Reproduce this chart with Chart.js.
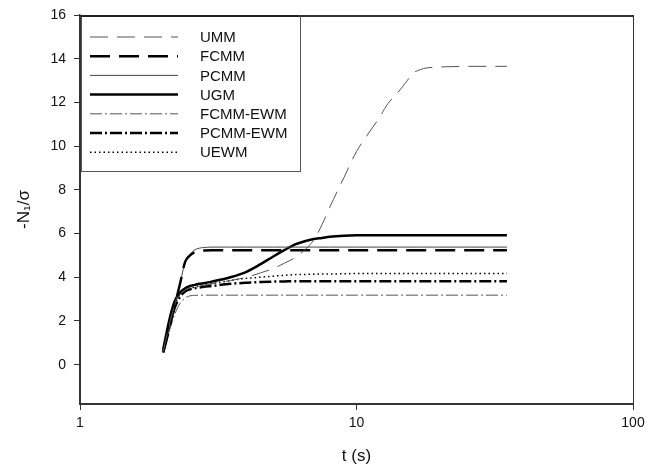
<!DOCTYPE html>
<html>
<head>
<meta charset="utf-8">
<script src="https://cdn.jsdelivr.net/npm/chart.js@4"></script>
<style>
  html, body { margin: 0; padding: 0; background: #fff; }
  #wrap { width: 646px; height: 467px; }
</style>
</head>
<body>
<div id="wrap"><canvas id="n1Chart" width="646" height="467"></canvas></div>
<script>
// time points (s)
const times = [2.0, 2.1, 2.2, 2.3, 2.4, 2.5, 2.6, 2.7, 2.8, 3, 3.5, 4, 4.5, 5, 5.5, 6, 6.5, 7, 7.5, 8, 9, 10, 11, 12, 13, 14, 15, 16, 17, 18, 20, 25, 30, 35];

// -N1/sigma for each model
const umm     = [0.6, 1.8, 2.7, 3.2, 3.4, 3.5, 3.55, 3.6, 3.62, 3.7, 3.85, 4.0, 4.2, 4.4, 4.65, 4.9, 5.25, 5.7, 6.4, 7.2, 8.55, 9.75, 10.55, 11.24, 11.95, 12.4, 12.87, 13.33, 13.5, 13.58, 13.62, 13.65, 13.65, 13.65];
const fcmm    = [0.55, 1.6, 2.7, 3.7, 4.7, 5.0, 5.15, 5.2, 5.22, 5.23, 5.23, 5.23, 5.23, 5.23, 5.23, 5.23, 5.23, 5.23, 5.23, 5.23, 5.23, 5.23, 5.23, 5.23, 5.23, 5.23, 5.23, 5.23, 5.23, 5.23, 5.23, 5.23, 5.23, 5.23];
const pcmm    = [0.55, 1.6, 2.7, 3.7, 4.7, 5.05, 5.25, 5.33, 5.36, 5.38, 5.38, 5.38, 5.38, 5.38, 5.38, 5.38, 5.38, 5.38, 5.38, 5.38, 5.38, 5.38, 5.38, 5.38, 5.38, 5.38, 5.38, 5.38, 5.38, 5.38, 5.38, 5.38, 5.38, 5.38];
const ugm     = [0.7, 2.0, 2.9, 3.3, 3.5, 3.6, 3.65, 3.7, 3.73, 3.8, 4.0, 4.25, 4.6, 4.95, 5.25, 5.5, 5.65, 5.75, 5.8, 5.85, 5.9, 5.92, 5.92, 5.92, 5.92, 5.92, 5.92, 5.92, 5.92, 5.92, 5.92, 5.92, 5.92, 5.92];
const fcmmEwm = [0.6, 1.5, 2.3, 2.8, 3.05, 3.15, 3.17, 3.18, 3.18, 3.18, 3.18, 3.18, 3.18, 3.18, 3.18, 3.18, 3.18, 3.18, 3.18, 3.18, 3.18, 3.18, 3.18, 3.18, 3.18, 3.18, 3.18, 3.18, 3.18, 3.18, 3.18, 3.18, 3.18, 3.18];
const pcmmEwm = [0.6, 1.7, 2.6, 3.1, 3.35, 3.45, 3.5, 3.53, 3.56, 3.6, 3.7, 3.75, 3.78, 3.8, 3.81, 3.82, 3.82, 3.82, 3.82, 3.82, 3.82, 3.82, 3.82, 3.82, 3.82, 3.82, 3.82, 3.82, 3.82, 3.82, 3.82, 3.82, 3.82, 3.82];
const uewm    = [0.7, 1.8, 2.7, 3.2, 3.4, 3.5, 3.55, 3.6, 3.64, 3.7, 3.85, 3.95, 4.0, 4.05, 4.09, 4.12, 4.13, 4.14, 4.15, 4.15, 4.16, 4.17, 4.17, 4.17, 4.17, 4.17, 4.17, 4.17, 4.17, 4.17, 4.17, 4.17, 4.17, 4.17];

const seriesNames = ["UMM", "FCMM", "PCMM", "UGM", "FCMM-EWM", "PCMM-EWM", "UEWM"];
const xTicks = [1, 10, 100];
const yTicks = [0, 2, 4, 6, 8, 10, 12, 14, 16];

const styles = [
    { color: "#555", width: 1,   dash: [18, 9] },
    { color: "#000", width: 2.5, dash: [20, 9] },
    { color: "#444", width: 1,   dash: [] },
    { color: "#000", width: 2.5, dash: [] },
    { color: "#555", width: 1,   dash: [12, 3, 2, 3] },
    { color: "#000", width: 2.5, dash: [12, 3, 2, 3] },
    { color: "#000", width: 1.5, dash: [1.5, 3] }
];

const allSeries = [umm, fcmm, pcmm, ugm, fcmmEwm, pcmmEwm, uewm];

const datasets = allSeries.map((vals, i) => ({
    label: seriesNames[i],
    data: vals.map((v, k) => ({ x: times[k], y: v })),
    borderColor: styles[i].color,
    borderWidth: styles[i].width,
    borderDash: styles[i].dash,
    pointRadius: 0,
    fill: false,
    cubicInterpolationMode: "monotone"
}));

const FONT = "'Liberation Sans', Arial, sans-serif";

// legend box drawn inside the plot, top-left
const boxLegend = {
    id: "boxLegend",
    afterDraw(chart) {
        const ctx = chart.ctx;
        const a = chart.chartArea;
        ctx.save();
        // frame round the plot
        ctx.strokeStyle = "#333";
        ctx.lineWidth = 1;
        ctx.strokeRect(a.left + 0.5, a.top + 0.5, a.right - a.left, a.bottom - a.top);
        ctx.lineWidth = 2;
        ctx.beginPath();
        ctx.moveTo(a.left, a.top + 1);
        ctx.lineTo(a.right, a.top + 1);
        ctx.stroke();

        const bx = a.left + 1, by = a.top, bw = 219, bh = 156;
        ctx.fillStyle = "#fff";
        ctx.fillRect(bx, by, bw, bh);
        ctx.lineWidth = 1;
        ctx.strokeStyle = "#555";
        ctx.strokeRect(bx + 0.5, by + 0.5, bw, bh);
        ctx.lineWidth = 2;
        ctx.strokeStyle = "#222";
        ctx.beginPath();
        ctx.moveTo(bx, by + 1);
        ctx.lineTo(bx + bw, by + 1);
        ctx.stroke();

        ctx.font = "15px " + FONT;
        ctx.textBaseline = "middle";
        chart.data.datasets.forEach((ds, i) => {
            const y = by + 22 + i * 19.2;
            ctx.strokeStyle = ds.borderColor;
            ctx.lineWidth = ds.borderWidth;
            ctx.setLineDash(ds.borderDash);
            ctx.beginPath();
            ctx.moveTo(bx + 9, y);
            ctx.lineTo(bx + 97, y);
            ctx.stroke();
            ctx.setLineDash([]);
            ctx.fillStyle = "#111";
            ctx.fillText(ds.label, bx + 119, y + 1);
        });
        ctx.restore();
    }
};

new Chart(document.getElementById("n1Chart"), {
    type: "line",
    data: { datasets: datasets },
    options: {
        responsive: false,
        animation: false,
        layout: { padding: { top: 15, right: 13, left: 0, bottom: 0 } },
        plugins: { legend: { display: false }, tooltip: { enabled: false } },
        scales: {
            x: {
                type: "logarithmic",
                min: 1,
                max: 100,
                afterBuildTicks: axis => { axis.ticks = xTicks.map(v => ({ value: v })); },
                afterFit: axis => { axis.height = 63; axis.paddingLeft = 0; axis.paddingRight = 0; },
                grid: { drawOnChartArea: false, drawTicks: true, tickLength: 6, color: "#333" },
                border: { display: true, color: "#333", width: 1.5 },
                ticks: {
                    color: "#111",
                    padding: 5,
                    maxRotation: 0,
                    autoSkip: false,
                    font: { family: FONT, size: 14 },
                    callback: v => String(v)
                },
                title: {
                    display: true,
                    text: "t (s)",
                    color: "#111",
                    padding: { top: 10, bottom: 0 },
                    font: { family: FONT, size: 17 }
                }
            },
            y: {
                min: -1.8,
                max: 16,
                afterBuildTicks: axis => { axis.ticks = yTicks.map(v => ({ value: v })); },
                afterFit: axis => { axis.width = 80; axis.paddingTop = 0; axis.paddingBottom = 0; },
                grid: { drawOnChartArea: false, drawTicks: true, tickLength: 6, color: "#333" },
                border: { display: true, color: "#333", width: 1.5 },
                ticks: {
                    color: "#111",
                    padding: 8,
                    font: { family: FONT, size: 14 }
                },
                title: {
                    display: true,
                    text: "-N\u2081/\u03c3",
                    color: "#111",
                    padding: { top: 14, bottom: 0 },
                    font: { family: FONT, size: 17 }
                }
            }
        }
    },
    plugins: [boxLegend]
});
</script>
</body>
</html>
